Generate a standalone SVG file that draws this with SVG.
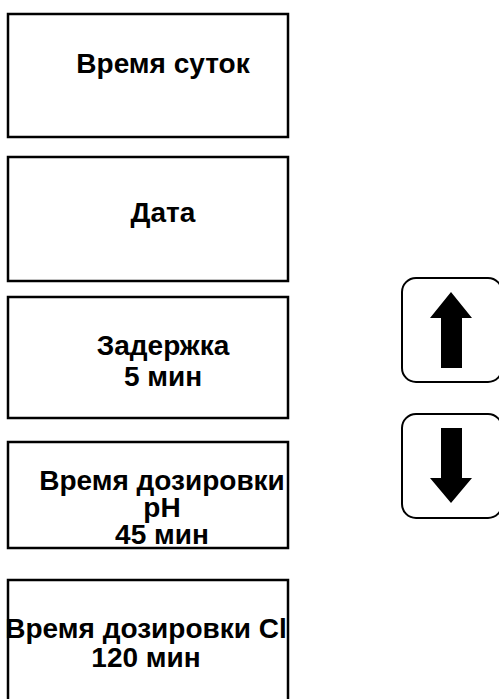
<svg xmlns="http://www.w3.org/2000/svg" width="499" height="699" viewBox="0 0 499 699">
<style>
.box{fill:#fff;stroke:#000;stroke-width:2.5}
.btn{fill:#fff;stroke:#000;stroke-width:2}
.t{font-family:"Liberation Sans",Arial,sans-serif;font-weight:bold;font-size:28px;text-anchor:middle;fill:#000}
.arr{fill:#000}
</style>
<rect width="499" height="699" fill="#fff"/>
<g id="node-time">
<rect class="box" x="8" y="14" width="280" height="123"/>
<text class="t" x="163" y="73">Время суток</text>
</g>
<g id="node-date">
<rect class="box" x="8" y="157" width="280" height="124"/>
<text class="t" x="163" y="222">Дата</text>
</g>
<g id="node-delay">
<rect class="box" x="8" y="297" width="280" height="121"/>
<text class="t" x="163" y="355">Задержка</text>
<text class="t" x="163" y="386">5 мин</text>
</g>
<g id="node-ph">
<rect class="box" x="8" y="442" width="280" height="106"/>
<text class="t" x="162" y="490">Время дозировки</text>
<text class="t" x="162" y="517">pH</text>
<text class="t" x="162" y="544">45 мин</text>
</g>
<g id="node-cl">
<rect class="box" x="8" y="580" width="280" height="125"/>
<text class="t" x="146" y="638">Время дозировки Cl</text>
<text class="t" x="146" y="667">120 мин</text>
</g>
<g id="btn-up">
<rect class="btn" x="402" y="278" width="100" height="104" rx="14"/>
<polygon class="arr" points="451,292 472,318 462,318 462,368 441,368 441,318 430,318"/>
</g>
<g id="btn-down">
<rect class="btn" x="402" y="414" width="100" height="104" rx="14"/>
<polygon class="arr" points="441,428 462,428 462,478 472,478 451,503 430,478 441,478"/>
</g>
<g id="connectors"/>
</svg>
